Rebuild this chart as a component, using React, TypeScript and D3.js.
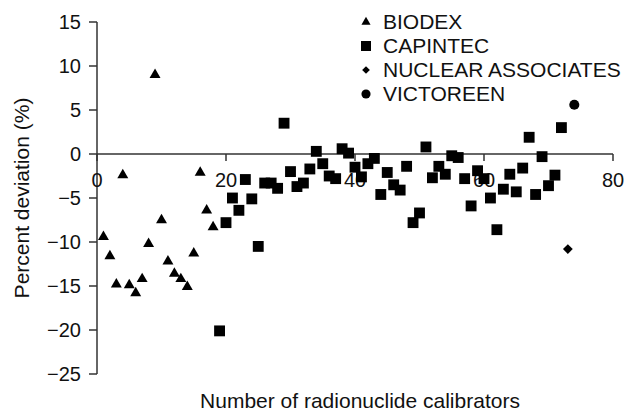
import * as d3 from "d3"

const biodexX = [1, 2, 3, 4, 5, 6, 7, 8, 9, 10, 11, 12, 13, 14, 15, 16, 17, 18]
const biodexY = [-9.4, -11.6, -14.8, -2.4, -14.9, -15.8, -14.2, -10.2, 9.0, -7.5, -12.2, -13.6, -14.2, -15.1, -11.3, -2.1, -6.4, -8.3]

const capintecX = [19, 20, 21, 22, 23, 24, 25, 26, 27, 28, 29, 30, 31, 32, 33, 34, 35, 36, 37, 38, 39, 40, 41, 42, 43, 44, 45, 46, 47, 48, 49, 50, 51, 52, 53, 54, 55, 56, 57, 58, 59, 60, 61, 62, 63, 64, 65, 66, 67, 68, 69, 70, 71, 72]
const capintecY = [-20.1, -7.8, -5.0, -6.4, -2.9, -5.1, -10.5, -3.3, -3.3, -3.9, 3.5, -2.0, -3.7, -3.3, -1.7, 0.3, -1.1, -2.5, -2.8, 0.6, 0.1, -1.5, -2.6, -1.1, -0.5, -4.6, -2.1, -3.5, -4.1, -1.4, -7.8, -6.7, 0.8, -2.7, -1.4, -2.3, -0.2, -0.4, -2.8, -5.9, -1.9, -2.8, -5.0, -8.6, -4.0, -2.3, -4.3, -1.6, 1.9, -4.6, -0.3, -3.6, -2.4, 3.0]

const nuclearX = [73]
const nuclearY = [-10.8]

const victoreenX = [74]
const victoreenY = [5.6]

const xTicks = [0, 20, 40, 60, 80]
const yTicks = [15, 10, 5, 0, -5, -10, -15, -20, -25]

const seriesNames = ["BIODEX", "CAPINTEC", "NUCLEAR ASSOCIATES", "VICTOREEN"]

const font = "'Liberation Sans', Arial, sans-serif"

const x = d3.scaleLinear().domain([0, 80]).range([97, 613])
const y = d3.scaleLinear().domain([-25, 15]).range([374, 22])
const fmt = d3.format("")

const triPath = d3.symbol(d3.symbolTriangle, 52)()
const sqPath = d3.symbol(d3.symbolSquare, 118)()
const diaPath = d3.symbol(d3.symbolSquare, 48)()
const circPath = d3.symbol(d3.symbolCircle, 80)()

const legTri = d3.symbol(d3.symbolTriangle, 36)()
const legSq = d3.symbol(d3.symbolSquare, 100)()
const legDia = d3.symbol(d3.symbolSquare, 30)()
const legCirc = d3.symbol(d3.symbolCircle, 66)()

function Points({ xs, ys, path, rotate = 0 }) {
    return (
        <g>
            {xs.map((v, i) => (
                <path
                    key={i}
                    d={path}
                    fill="#000"
                    transform={`translate(${x(v)},${y(ys[i])}) rotate(${rotate})`}
                />
            ))}
        </g>
    )
}

export default function App() {
    const legendPaths = [legTri, legSq, legDia, legCirc]
    const legendY = d3.scaleLinear().domain([0, 3]).range([22, 94])

    return (
        <div style={{ position: "absolute", left: 0, top: 0 }}>
            <svg width={639} height={411} style={{ display: "block", background: "#fff" }} fontFamily={font}>
                {/* y axis */}
                <line x1={x(0)} x2={x(0)} y1={y(15)} y2={y(-25)} stroke="#333" strokeWidth={1.5} />
                {yTicks.map(t => (
                    <g key={t} transform={`translate(0,${y(t)})`}>
                        <line x1={x(0) - 8} x2={x(0)} stroke="#333" strokeWidth={1.5} />
                        <text x={81} dy="0.35em" textAnchor="end" fontSize={20} fill="#111">
                            {fmt(t)}
                        </text>
                    </g>
                ))}

                {/* x axis at zero */}
                <line x1={x(0)} x2={x(80)} y1={y(0)} y2={y(0)} stroke="#333" strokeWidth={1.5} />
                {xTicks.map(t => (
                    <g key={t} transform={`translate(${x(t)},${y(0)})`}>
                        <line y1={0} y2={7} stroke="#333" strokeWidth={1.5} />
                        <text y={33} textAnchor="middle" fontSize={20} fill="#111">
                            {fmt(t)}
                        </text>
                    </g>
                ))}

                <text
                    transform={`translate(22,${(y(15) + y(-25)) / 2}) rotate(-90)`}
                    textAnchor="middle"
                    dy="0.35em"
                    fontSize={21}
                    fill="#111"
                >
                    Percent deviation (%)
                </text>
                <text x={(x(0) + x(80)) / 2 + 5} y={408} textAnchor="middle" fontSize={21} fill="#111">
                    Number of radionuclide calibrators
                </text>

                <Points xs={biodexX} ys={biodexY} path={triPath} />
                <Points xs={capintecX} ys={capintecY} path={sqPath} />
                <Points xs={nuclearX} ys={nuclearY} path={diaPath} rotate={45} />
                <Points xs={victoreenX} ys={victoreenY} path={circPath} />

                {/* legend */}
                {seriesNames.map((name, i) => (
                    <g key={name} transform={`translate(366,${legendY(i)})`}>
                        <path d={legendPaths[i]} fill="#000" transform={i === 2 ? "rotate(45)" : undefined} />
                        <text x={17} dy="0.35em" fontSize={21} fill="#111">
                            {name}
                        </text>
                    </g>
                ))}
            </svg>
        </div>
    )
}
